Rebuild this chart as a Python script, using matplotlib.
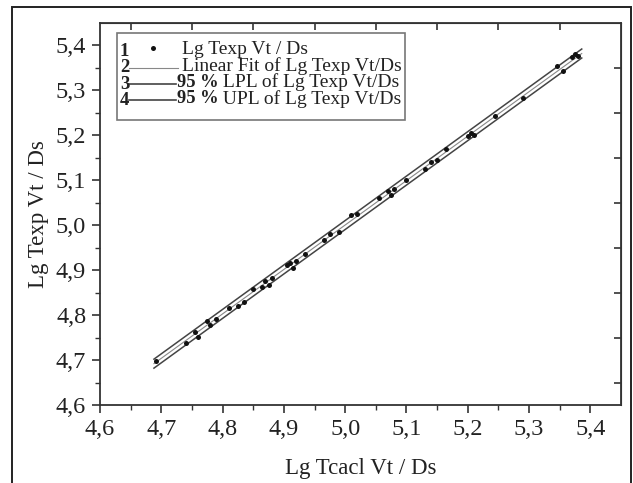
import matplotlib
matplotlib.use('Agg')
import matplotlib.pyplot as plt
from matplotlib.lines import Line2D
from matplotlib.patches import Rectangle

# measured points (Lg Tcacl Vt/Ds, Lg Texp Vt/Ds)
x_calc = [4.692, 4.740, 4.755, 4.760, 4.775, 4.780, 4.790, 4.810, 4.825,
          4.835, 4.850, 4.865, 4.870, 4.875, 4.880, 4.905, 4.910, 4.915,
          4.920, 4.935, 4.965, 4.975, 4.990, 5.010, 5.020, 5.055, 5.070,
          5.075, 5.080, 5.100, 5.130, 5.140, 5.150, 5.165, 5.200, 5.205,
          5.210, 5.245, 5.290, 5.345, 5.355, 5.370, 5.375, 5.380]
y_exp = [4.698, 4.738, 4.762, 4.752, 4.786, 4.778, 4.792, 4.816, 4.820,
         4.830, 4.857, 4.862, 4.876, 4.868, 4.882, 4.912, 4.916, 4.905,
         4.920, 4.937, 4.966, 4.980, 4.984, 5.022, 5.025, 5.060, 5.076,
         5.068, 5.080, 5.100, 5.124, 5.141, 5.145, 5.170, 5.198, 5.206,
         5.200, 5.244, 5.284, 5.354, 5.344, 5.374, 5.380, 5.376]

# fit line and prediction limits (end points)
fit_x = [4.688, 5.386]
fit_y = [4.692, 5.382]
lpl_y = [4.682, 5.372]
upl_y = [4.702, 5.392]

ticks = [4.6, 4.7, 4.8, 4.9, 5.0, 5.1, 5.2, 5.3, 5.4]
tick_labels = ['4,6', '4,7', '4,8', '4,9', '5,0', '5,1', '5,2', '5,3', '5,4']
minor_ticks = [4.65, 4.75, 4.85, 4.95, 5.05, 5.15, 5.25, 5.35]

plt.rcParams['font.family'] = ['Liberation Serif', 'DejaVu Serif']
DARK = '#333333'

fig = plt.figure(figsize=(6.33, 4.83), dpi=100)
fig.patches.append(Rectangle((0.019, -0.02), 0.978, 1.0055, transform=fig.transFigure,
                             fill=False, edgecolor='#222222', lw=1.4))
ax = fig.add_axes([0.158, 0.1615, 0.823, 0.791])

ax.plot(fit_x, fit_y, color='#888888', lw=0.8)
ax.plot(fit_x, lpl_y, color='#444444', lw=1.1)
ax.plot(fit_x, upl_y, color='#444444', lw=1.1)
ax.plot(x_calc, y_exp, 'o', color='#111111', markersize=3.6, markeredgewidth=0)

ax.set_xlim(4.6, 5.45)
ax.set_ylim(4.6, 5.45)
ax.set_xticks(ticks)
ax.set_xticklabels(tick_labels)
ax.set_yticks(ticks)
ax.set_yticklabels(tick_labels)
ax.set_xticks(minor_ticks, minor=True)
ax.set_yticks(minor_ticks, minor=True)
ax.tick_params(which='major', direction='out', length=6, width=1.2, color=DARK,
               labelsize=17.5, labelcolor='#222222', pad=4)
ax.tick_params(which='minor', direction='out', length=3.5, width=1.0, color=DARK)
for s in ax.spines.values():
    s.set_color(DARK)
    s.set_linewidth(1.3)

top = ax.secondary_xaxis('top')
top.set_xticks(minor_ticks)
top.tick_params(direction='in', length=5, width=1.2, color=DARK, labeltop=False)
top.spines['top'].set_color(DARK)
right = ax.secondary_yaxis('right')
right.set_yticks(minor_ticks)
right.tick_params(direction='in', length=5, width=1.2, color=DARK, labelright=False)
right.spines['right'].set_color(DARK)

ax.set_xlabel('Lg Tcacl Vt / Ds', fontsize=16.5, color='#222222', labelpad=13)
ax.set_ylabel('Lg Texp Vt / Ds', fontsize=16.5, color='#222222', labelpad=5)

# legend, drawn by hand in the Origin style
ax.add_patch(Rectangle((0.033, 0.746), 0.552, 0.228, transform=ax.transAxes,
                       fill=False, edgecolor='#777777', lw=1.2))
rows = [0.930, 0.887, 0.844, 0.801]
fs = 14.0
labels = ['Lg Texp Vt / Ds', 'Linear Fit of Lg Texp Vt/Ds',
          'LPL of Lg Texp Vt/Ds', 'UPL of Lg Texp Vt/Ds']
for i, ry in enumerate(rows):
    ax.text(0.038, ry - 0.004, str(i + 1), transform=ax.transAxes, fontsize=fs - 0.5,
            fontweight='bold', va='center', ha='left', color='#222222')
    if i == 0:
        ax.add_line(Line2D([0.102], [ry + 0.004], transform=ax.transAxes, marker='o',
                           color='#111111', markersize=3.6, markeredgewidth=0))
        ax.text(0.157, ry, labels[i], transform=ax.transAxes, fontsize=fs,
                va='center', color='#222222')
    elif i == 1:
        ax.add_line(Line2D([0.056, 0.150], [ry - 0.004] * 2, transform=ax.transAxes,
                           color='#888888', lw=0.8))
        ax.text(0.157, ry, labels[i], transform=ax.transAxes, fontsize=fs,
                va='center', color='#222222')
    else:
        ax.add_line(Line2D([0.056, 0.146], [ry - 0.004] * 2, transform=ax.transAxes,
                           color='#444444', lw=1.2))
        t = ax.text(0.147, ry, '95 %', transform=ax.transAxes, fontsize=fs - 0.7,
                    fontweight='bold', va='center', color='#222222')
        ax.annotate(' ' + labels[i], xy=(1, 0.5), xycoords=t, fontsize=fs,
                    va='center', color='#222222')

fig.savefig('out.png', dpi=100)
